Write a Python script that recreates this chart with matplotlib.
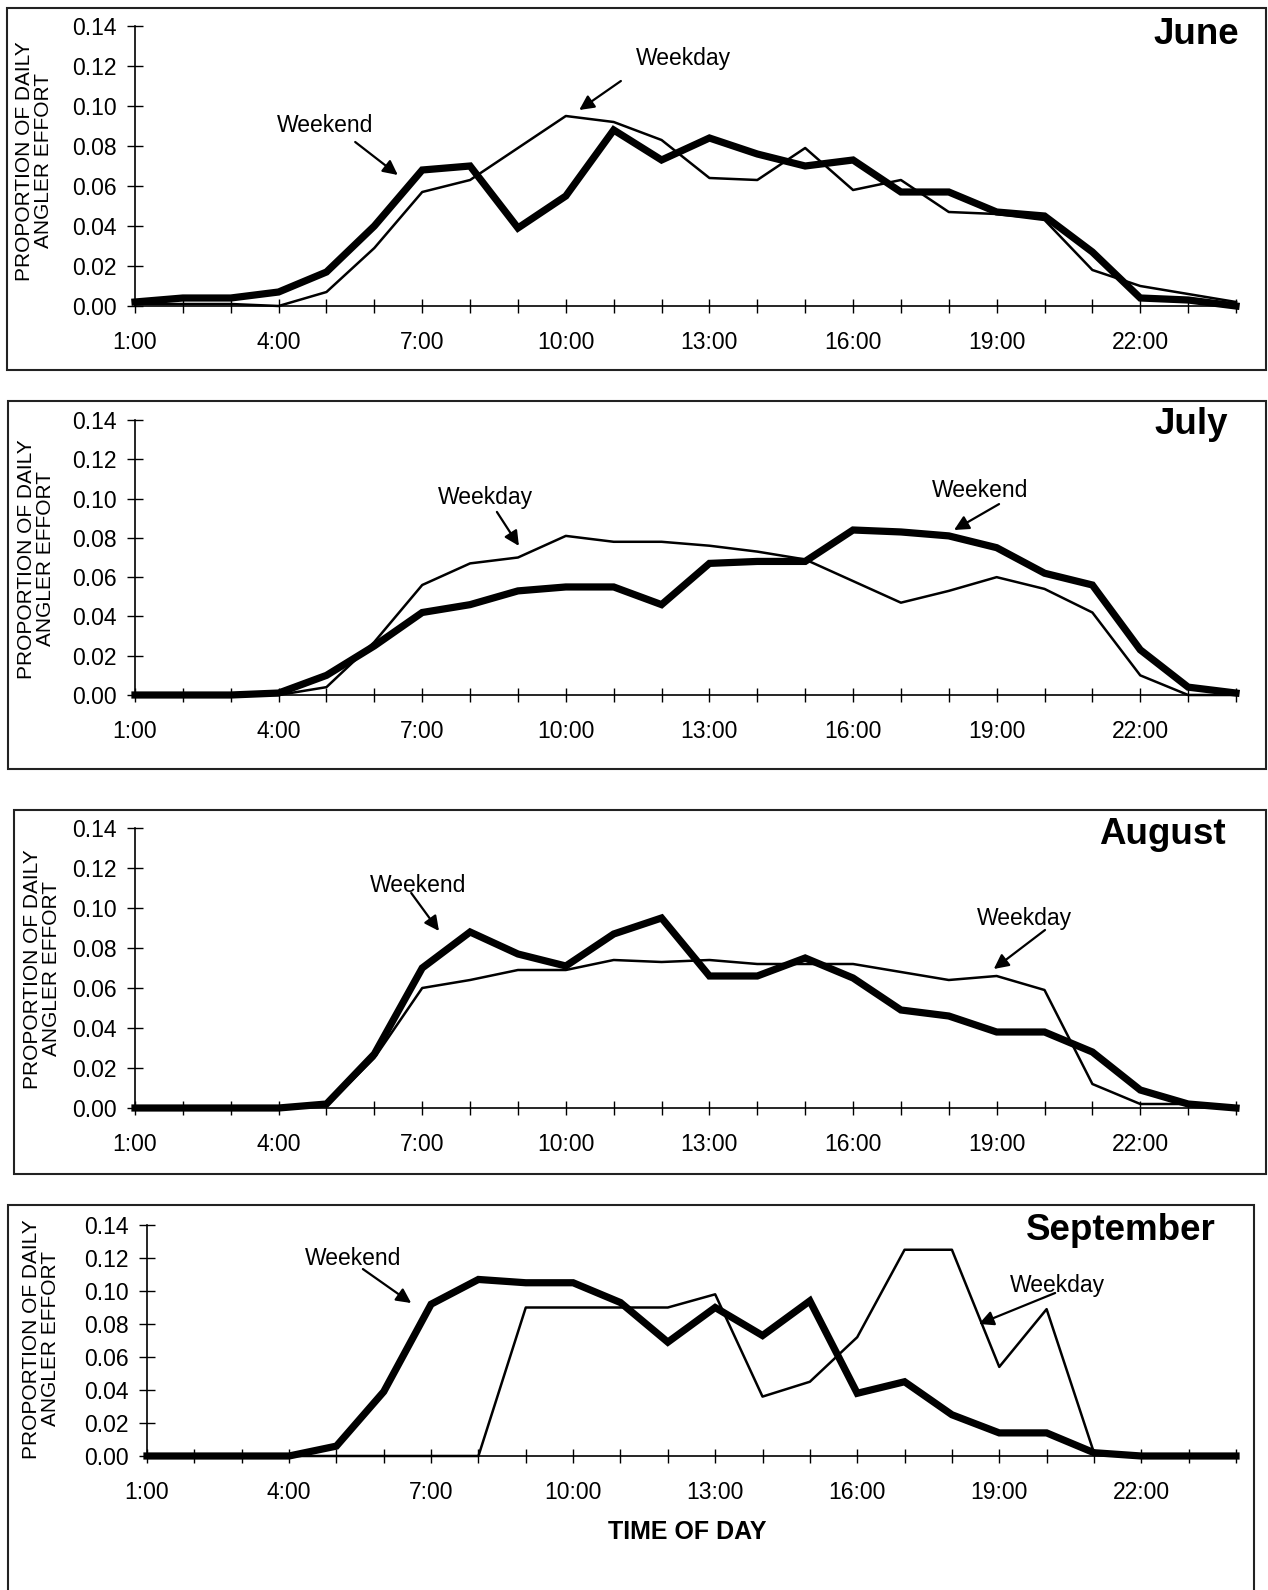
import numpy as np
import matplotlib
matplotlib.use("Agg")
import matplotlib.pyplot as plt
from matplotlib.patches import Rectangle

plt.rcParams['font.family'] = ['Liberation Sans', 'DejaVu Sans']

hours = list(range(1, 25))
hour_labels = [f"{h}:00" if (h - 1) % 3 == 0 and h < 24 else "" for h in hours]

june_weekend = [0.002, 0.004, 0.004, 0.007, 0.017, 0.040, 0.068, 0.070, 0.039, 0.055, 0.088, 0.073,
                0.084, 0.076, 0.070, 0.073, 0.057, 0.057, 0.047, 0.045, 0.027, 0.004, 0.003, 0.000]
june_weekday = [0.001, 0.001, 0.001, 0.000, 0.007, 0.029, 0.057, 0.063, 0.079, 0.095, 0.092, 0.083,
                0.064, 0.063, 0.079, 0.058, 0.063, 0.047, 0.046, 0.043, 0.018, 0.010, 0.006, 0.002]

july_weekend = [0.000, 0.000, 0.000, 0.001, 0.010, 0.025, 0.042, 0.046, 0.053, 0.055, 0.055, 0.046,
                0.067, 0.068, 0.068, 0.084, 0.083, 0.081, 0.075, 0.062, 0.056, 0.023, 0.004, 0.001]
july_weekday = [0.000, 0.000, 0.000, 0.000, 0.004, 0.027, 0.056, 0.067, 0.070, 0.081, 0.078, 0.078,
                0.076, 0.073, 0.069, 0.058, 0.047, 0.053, 0.060, 0.054, 0.042, 0.010, 0.000, 0.000]

aug_weekend = [0.000, 0.000, 0.000, 0.000, 0.002, 0.027, 0.070, 0.088, 0.077, 0.071, 0.087, 0.095,
               0.066, 0.066, 0.075, 0.065, 0.049, 0.046, 0.038, 0.038, 0.028, 0.009, 0.002, 0.000]
aug_weekday = [0.000, 0.000, 0.000, 0.000, 0.001, 0.025, 0.060, 0.064, 0.069, 0.069, 0.074, 0.073,
               0.074, 0.072, 0.072, 0.072, 0.068, 0.064, 0.066, 0.059, 0.012, 0.002, 0.002, 0.000]

sep_weekend = [0.000, 0.000, 0.000, 0.000, 0.006, 0.039, 0.092, 0.107, 0.105, 0.105, 0.093, 0.069,
               0.090, 0.073, 0.094, 0.038, 0.045, 0.025, 0.014, 0.014, 0.002, 0.000, 0.000, 0.000]
sep_weekday = [0.000, 0.000, 0.000, 0.000, 0.000, 0.000, 0.000, 0.000, 0.090, 0.090, 0.090, 0.090,
               0.098, 0.036, 0.045, 0.072, 0.125, 0.125, 0.054, 0.089, 0.002, 0.001, 0.000, 0.000]

months = ["June", "July", "August", "September"]
weekend = [june_weekend, july_weekend, aug_weekend, sep_weekend]
weekday = [june_weekday, july_weekday, aug_weekday, sep_weekday]

W, H = 1268, 1590

# panel layout in pixels: axes (left, right, y of 0.00, y of 0.14), frame box, ylabel centre, title anchor
axes_px = [(135, 1236, 306, 26), (135, 1236, 695, 420), (135, 1236, 1108, 828), (147, 1236, 1456, 1225)]
box_px = [(7, 8, 1266, 370), (8, 401, 1266, 769), (14, 810, 1266, 1174), (8, 1205, 1254, 1600)]
ylab_px = [(34, 161), (36, 559), (42, 969), (41, 1339)]
title_px = [(1239, 35), (1228, 424), (1226, 834), (1216, 1230)]

# annotation: (label, text xy, arrow tail xy, arrow tip xy) in data units
notes = [
    [("Weekday", (12.45, 0.1235), (11.15, 0.1125), (10.28, 0.098)),
     ("Weekend", (4.97, 0.090), (5.60, 0.082), (6.49, 0.0655))],
    [("Weekday", (8.33, 0.1003), (8.56, 0.0932), (9.02, 0.0759)),
     ("Weekend", (18.65, 0.1039), (19.05, 0.0972), (18.11, 0.084))],
    [("Weekend", (6.91, 0.1115), (6.77, 0.1075), (7.35, 0.0885)),
     ("Weekday", (19.59, 0.095), (20.01, 0.089), (18.94, 0.0695))],
    [("Weekend", (5.35, 0.1194), (5.56, 0.1133), (6.58, 0.0927)),
     ("Weekday", (20.22, 0.1036), (20.18, 0.0988), (18.57, 0.080))],
]

fig = plt.figure(figsize=(W / 100, H / 100), dpi=100)

for i in range(4):
    x0, x1, y0, y1 = axes_px[i]
    ax = fig.add_axes([x0 / W, 1 - y0 / H, (x1 - x0) / W, (y0 - y1) / H])

    ax.plot(hours, weekday[i], color="black", lw=1.8, clip_on=False, zorder=3)
    ax.plot(hours, weekend[i], color="black", lw=5.2, clip_on=False, zorder=4,
            solid_joinstyle="miter")

    ax.set_xlim(1, 24)
    ax.set_ylim(0, 0.14)
    ax.set_xticks(hours)
    ax.set_xticklabels(hour_labels)
    ax.set_yticks(np.arange(0, 0.141, 0.02))
    ax.set_yticklabels([f"{v:.2f}" for v in np.arange(0, 0.141, 0.02)])
    ax.tick_params(axis="x", direction="inout", length=10, width=1, pad=13, labelsize=16.5)
    ax.tick_params(axis="y", direction="inout", length=12, width=1, pad=7, labelsize=16.5)
    for s in ["top", "right"]:
        ax.spines[s].set_visible(False)
    for s in ["left", "bottom"]:
        ax.spines[s].set_linewidth(1.2)
    ax.patch.set_alpha(0)

    for label, txt, tail, tip in notes[i]:
        ax.text(txt[0], txt[1], label, fontsize=16.5, ha="center", va="center")
        ax.annotate("", xy=tip, xytext=tail,
                    arrowprops=dict(arrowstyle="-|>", color="black", lw=1.6,
                                    mutation_scale=22, shrinkA=0, shrinkB=0))

    tx, ty = title_px[i]
    fig.text(tx / W, 1 - ty / H, months[i], fontsize=26.5, fontweight="bold",
             ha="right", va="center")

    lx, ly = ylab_px[i]
    fig.text(lx / W, 1 - ly / H, "PROPORTION OF DAILY\nANGLER EFFORT", fontsize=15,
             rotation=90, ha="center", va="center", multialignment="center",
             linespacing=1.05)

    bx0, by0, bx1, by1 = box_px[i]
    fig.add_artist(Rectangle((bx0 / W, 1 - by1 / H), (bx1 - bx0) / W, (by1 - by0) / H,
                             transform=fig.transFigure, fill=False, lw=1.5,
                             edgecolor="#222222"))

fig.text(687 / W, 1 - 1532 / H, "TIME OF DAY", fontsize=18, fontweight="bold",
         ha="center", va="center")

fig.savefig("out.png", dpi=100)
